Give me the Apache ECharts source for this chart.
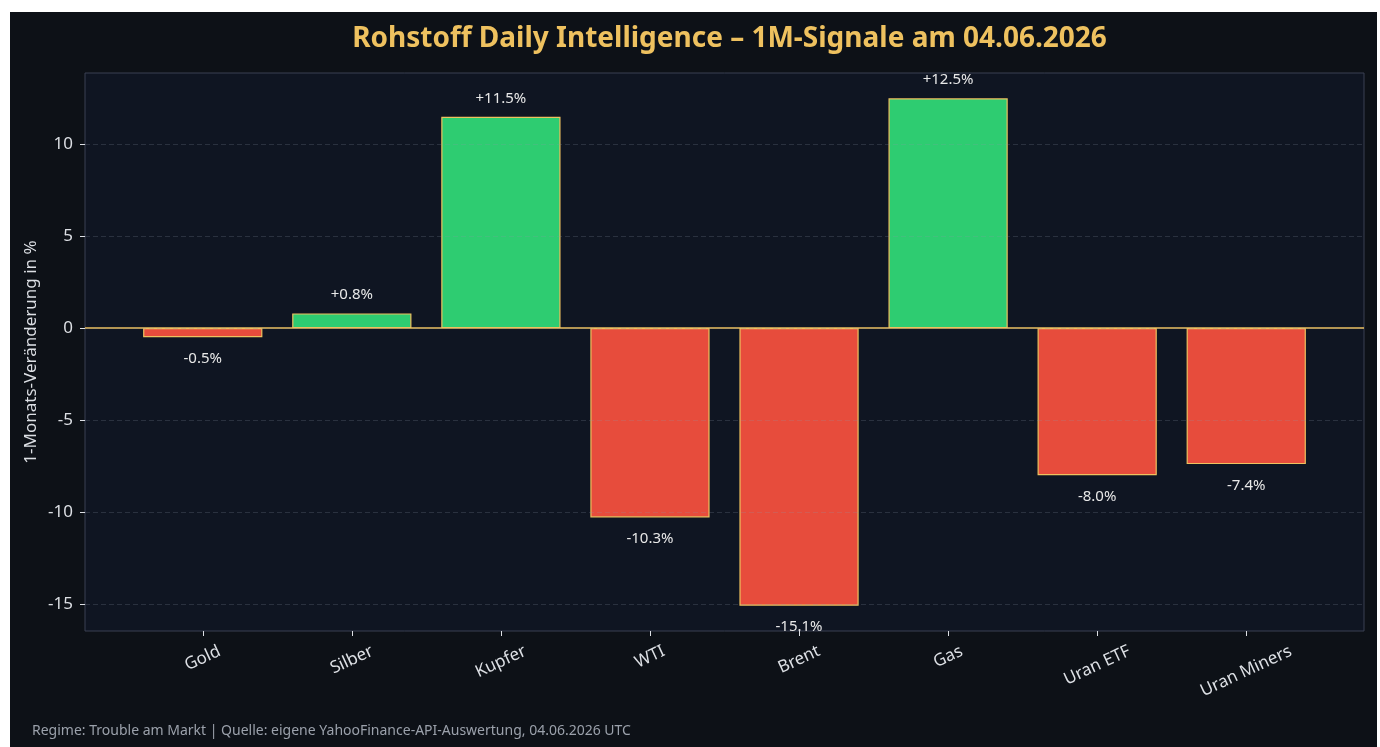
<!DOCTYPE html>
<html><head><meta charset="utf-8">
<script src="https://cdn.jsdelivr.net/npm/echarts@6/dist/echarts.min.js"></script>
<style>
html,body{margin:0;padding:0;background:#ffffff;overflow:hidden;}
#c{position:absolute;left:10px;top:12px;width:1367px;height:735px;}
</style>
</head><body><div id="c"></div>
<script>
// ---- data ----
const categories = ['Gold', 'Silber', 'Kupfer', 'WTI', 'Brent', 'Gas', 'Uran ETF', 'Uran Miners'];
const changes = [-0.5, 0.8, 11.5, -10.3, -15.1, 12.5, -8.0, -7.4];
const yTicks = [-15, -10, -5, 0, 5, 10];
const titleText = 'Rohstoff Daily Intelligence – 1M-Signale am 04.06.2026';
const yName = '1-Monats-Veränderung in %';
const footerText = 'Regime: Trouble am Markt | Quelle: eigene YahooFinance-API-Auswertung, 04.06.2026 UTC';

// ---- style ----
const FONT = '"Noto Sans", "DejaVu Sans", sans-serif';
const GOLD = '#eec15f';
const GREEN = '#2ecc71';
const RED = '#e74c3c';
const TXT = '#dcdfe4';
const AXFS = 17;

const W = 1367, H = 735;
const PL = 75, PR = 13, PT = 61, PB = 116;
const plotW = W - PL - PR, plotH = H - PT - PB;

// matplotlib-like auto limits (5% margins)
const lo = Math.min(0, ...changes), hi = Math.max(0, ...changes);
const yPad = 0.05 * (hi - lo);
const yMin = lo - yPad, yMax = hi + yPad;
const n = categories.length;
const barW = 0.8;
const xSpan = (n - 1) + barW;
const xMarg = 0.05 * xSpan;
const unit = plotW / (xSpan + 2 * xMarg);
const inset = (xMarg + barW / 2 - 0.5) * unit;

const tMin = yTicks[0], tMax = yTicks[yTicks.length - 1], tInt = yTicks[1] - yTicks[0];
const pxPerY = plotH / (yMax - yMin);
const tickTop = PT + (yMax - tMax) * pxPerY;
const tickBottom = PB + (tMin - yMin) * pxPerY;

// measure label widths for matplotlib-style centred rotated labels
const cv = document.createElement('canvas').getContext('2d');
cv.font = AXFS + 'px "Noto Sans"';
const ROT = 25, rad = ROT * Math.PI / 180;
const xData = categories.map(c => {
  const w = cv.measureText(c).width;
  const s = w * Math.sin(rad) / 2;
  const T = s * Math.cos(rad);
  const R = 2 * (T + AXFS / 2) * Math.tan(rad);
  return { value: c, textStyle: {
    align: 'center', verticalAlign: 'top', color: TXT, fontSize: AXFS, fontFamily: FONT,
    padding: [T, R, 0, 0] } };
});

const barData = changes.map(v => ({
  value: v,
  itemStyle: { color: v >= 0 ? GREEN : RED },
  label: { position: v >= 0 ? 'top' : 'bottom', distance: v >= 0 ? 11 : 14 }
}));

const chart = echarts.init(document.getElementById('c'), null, { renderer: 'canvas' });
chart.setOption({
  backgroundColor: '#0d1117',
  animation: false,
  textStyle: { fontFamily: FONT },
  title: [
    { text: titleText, left: PL + plotW / 2, textAlign: 'center', top: 8,
      textStyle: { color: GOLD, fontSize: 28, fontWeight: 'bold', fontFamily: FONT } },
    { text: footerText, left: 22, top: 712, padding: 0,
      textStyle: { color: '#9ba1ab', fontSize: 14, fontWeight: 'normal', fontFamily: FONT } }
  ],
  grid: [
    { left: PL, right: PR, top: PT, bottom: PB, show: true, backgroundColor: '#0f1522',
      borderColor: '#3a4152', borderWidth: 1 },
    { left: PL + inset, right: PR + inset, top: PT, bottom: PB },
    { left: PL, right: PR, top: tickTop, bottom: tickBottom }
  ],
  xAxis: [
    { gridIndex: 0, type: 'value', min: 0, max: 1, show: false },
    { gridIndex: 1, type: 'category', data: xData, position: 'bottom',
      axisLine: { show: false, onZero: false },
      axisTick: { show: true, alignWithLabel: true, length: 5, lineStyle: { color: TXT, width: 1 } },
      axisLabel: { interval: 0, rotate: ROT, align: 'center', verticalAlign: 'top', margin: 10,
        color: TXT, fontSize: AXFS, fontFamily: FONT, hideOverlap: false },
      splitLine: { show: false } },
    { gridIndex: 2, type: 'value', min: 0, max: 1, show: false }
  ],
  yAxis: [
    { gridIndex: 0, type: 'value', min: yMin, max: yMax,
      name: yName, nameLocation: 'middle', nameGap: 45,
      nameTextStyle: { color: TXT, fontSize: AXFS, fontFamily: FONT },
      axisLine: { show: false }, axisTick: { show: false }, axisLabel: { show: false }, splitLine: { show: false } },
    { gridIndex: 1, type: 'value', min: yMin, max: yMax, show: false },
    { gridIndex: 2, type: 'value', min: tMin, max: tMax, interval: tInt, z: 10,
      axisLine: { show: false },
      axisTick: { show: true, length: 5, lineStyle: { color: TXT, width: 1 } },
      axisLabel: { color: TXT, fontSize: AXFS, margin: 12, fontFamily: FONT },
      splitLine: { show: true, lineStyle: { color: 'rgba(140,150,170,0.22)', type: [5, 3], width: 1 } } }
  ],
  series: [
    { type: 'bar', xAxisIndex: 1, yAxisIndex: 1, data: barData, barWidth: '80%', z: 2,
      itemStyle: { borderColor: GOLD, borderWidth: 1.2 },
      label: { show: true, color: '#e8e8e8', fontSize: 15, fontFamily: FONT,
        formatter: p => (p.value > 0 ? '+' : '') + p.value.toFixed(1) + '%' } },
    { type: 'line', xAxisIndex: 0, yAxisIndex: 0, data: [], z: 12, silent: true,
      markLine: { symbol: 'none', silent: true, animation: false, label: { show: false },
        lineStyle: { color: GOLD, width: 1.5, type: 'solid' }, data: [{ yAxis: 0 }] } }
  ]
});
</script>
</body></html>
